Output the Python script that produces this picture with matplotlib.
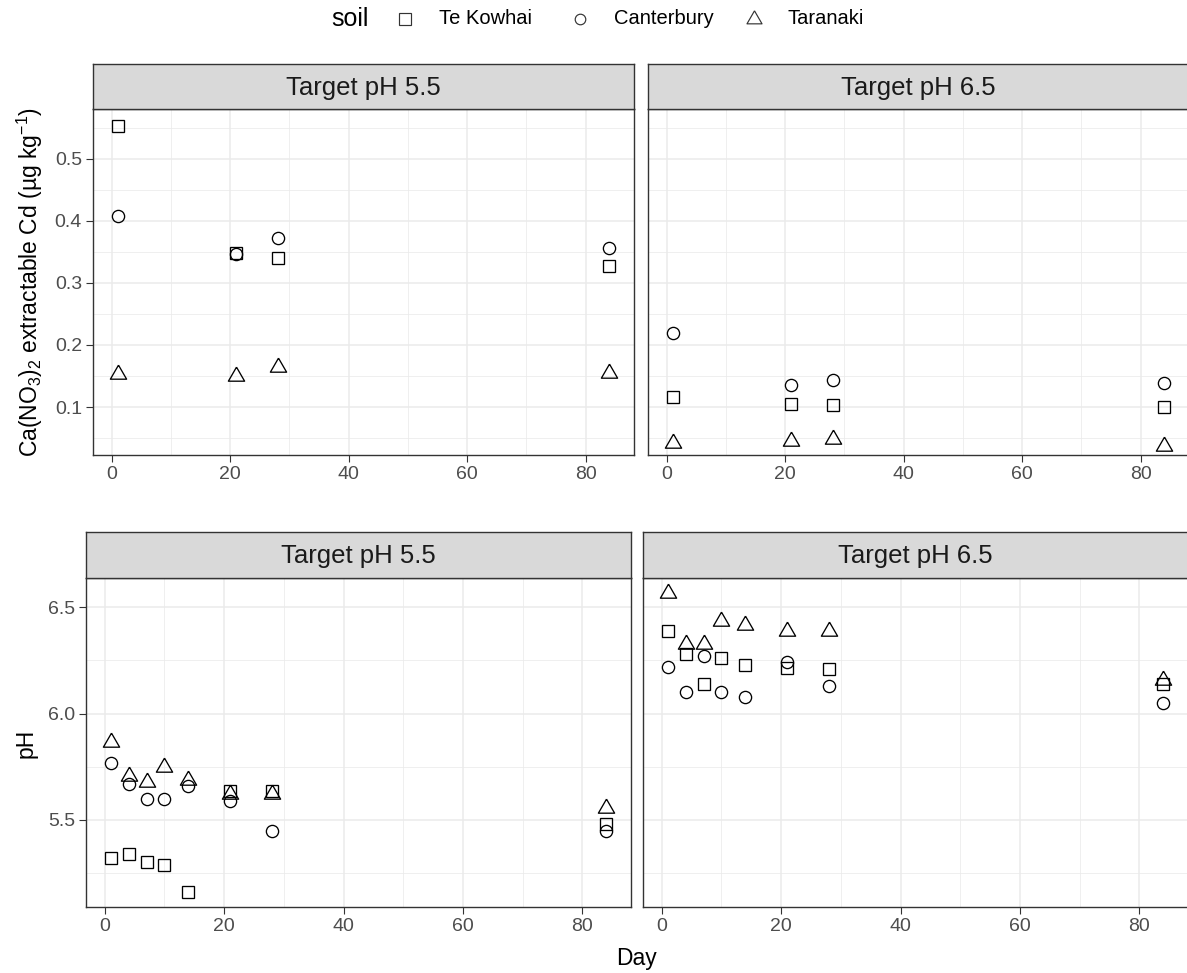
import matplotlib
matplotlib.use('Agg')
import matplotlib.pyplot as plt
from matplotlib.lines import Line2D

plt.rcParams['font.family'] = ['Liberation Sans', 'DejaVu Sans']
plt.rcParams['mathtext.fontset'] = 'custom'
plt.rcParams['mathtext.rm'] = 'Liberation Sans'
plt.rcParams['mathtext.it'] = 'Liberation Sans:italic'
plt.rcParams['mathtext.bf'] = 'Liberation Sans:bold'

soils = ['Te Kowhai', 'Canterbury', 'Taranaki']
targets = ['Target pH 5.5', 'Target pH 6.5']

# extractable Cd, sampled on four days
cd_days = [1, 21, 28, 84]
cd55_tekowhai = [0.553, 0.349, 0.340, 0.327]
cd55_canterbury = [0.408, 0.347, 0.372, 0.357]
cd55_taranaki = [0.153, 0.150, 0.165, 0.155]
cd65_tekowhai = [0.116, 0.105, 0.103, 0.100]
cd65_canterbury = [0.219, 0.136, 0.144, 0.138]
cd65_taranaki = [0.042, 0.045, 0.049, 0.037]

# soil pH over the incubation
ph_days = [1, 4, 7, 10, 14, 21, 28, 84]
ph55_tekowhai = [5.318, 5.340, 5.300, 5.289, 5.159, 5.635, 5.635, 5.478]
ph55_canterbury = [5.769, 5.670, 5.596, 5.596, 5.659, 5.588, 5.447, 5.447]
ph55_taranaki = [5.868, 5.708, 5.678, 5.749, 5.687, 5.620, 5.620, 5.557]
ph65_tekowhai = [6.390, 6.280, 6.141, 6.261, 6.230, 6.212, 6.209, 6.138]
ph65_canterbury = [6.217, 6.099, 6.269, 6.099, 6.079, 6.241, 6.130, 6.049]
ph65_taranaki = [6.568, 6.329, 6.329, 6.437, 6.418, 6.387, 6.387, 6.159]

W, H = 1187, 973
fig = plt.figure(figsize=(W / 100, H / 100), dpi=100)


def box(x0, y0, x1, y1):
    return [x0 / W, 1 - y1 / H, (x1 - x0) / W, (y1 - y0) / H]


# triangle centred on its centroid, like R's pch 2
tri = [(0, 1), (-0.866, -0.5), (0.866, -0.5), (0, 1)]
marker_style = {
    'Te Kowhai': dict(marker='s', ms=8.3),
    'Canterbury': dict(marker='o', ms=8.8),
    'Taranaki': dict(marker=tri, ms=13.5),
}

border = '#333333'
grid = '#EBEBEB'


def strip(pos, label):
    sa = fig.add_axes(box(*pos))
    sa.set_facecolor('#D9D9D9')
    sa.set_xticks([])
    sa.set_yticks([])
    for s in sa.spines.values():
        s.set_color(border)
        s.set_linewidth(1.0)
    sa.text(0.5, 0.47, label, ha='center', va='center', fontsize=18.5,
            color='#1A1A1A', transform=sa.transAxes)


def panel(pos, days, series, ylim, yticks, yminor, left):
    ax = fig.add_axes(box(*pos))
    for soil, vals in zip(soils, series):
        ax.plot(days, vals, ls='none', mfc='none', mec='black', mew=0.95,
                **marker_style[soil])
    ax.set_xlim(-3.15, 88.15)
    ax.set_ylim(*ylim)
    ax.set_xticks([0, 20, 40, 60, 80])
    ax.set_xticks([10, 30, 50, 70], minor=True)
    ax.set_yticks(yticks)
    ax.set_yticks(yminor, minor=True)
    ax.grid(True, which='major', color=grid, lw=1.1)
    ax.grid(True, which='minor', color=grid, lw=0.55)
    ax.set_axisbelow(True)
    for s in ax.spines.values():
        s.set_color(border)
        s.set_linewidth(1.0)
    ax.tick_params(which='major', length=5, width=0.8, color=border,
                   labelsize=14, labelcolor='#4D4D4D', pad=3)
    ax.tick_params(which='minor', length=0)
    if not left:
        ax.tick_params(axis='y', which='both', left=False, labelleft=False)
    return ax


cd_ticks = [0.1, 0.2, 0.3, 0.4, 0.5]
cd_minor = [0.05, 0.15, 0.25, 0.35, 0.45, 0.55]
cd_lim = (0.0226, 0.5806)
ph_ticks = [5.5, 6.0, 6.5]
ph_minor = [5.25, 5.75, 6.25]
ph_lim = (5.089, 6.638)

ax1 = panel((93, 109, 634, 455), cd_days,
            [cd55_tekowhai, cd55_canterbury, cd55_taranaki],
            cd_lim, cd_ticks, cd_minor, True)
ax1.set_yticklabels(['0.1', '0.2', '0.3', '0.4', '0.5'])
strip((93, 64, 634, 109), targets[0])
ax2 = panel((648, 109, 1189, 455), cd_days,
            [cd65_tekowhai, cd65_canterbury, cd65_taranaki],
            cd_lim, cd_ticks, cd_minor, False)
strip((648, 64, 1189, 109), targets[1])

ax3 = panel((86, 578, 631, 907), ph_days,
            [ph55_tekowhai, ph55_canterbury, ph55_taranaki],
            ph_lim, ph_ticks, ph_minor, True)
ax3.set_yticklabels(['5.5', '6.0', '6.5'])
strip((86, 532, 631, 578), targets[0])
ax4 = panel((643, 578, 1188, 907), ph_days,
            [ph65_tekowhai, ph65_canterbury, ph65_taranaki],
            ph_lim, ph_ticks, ph_minor, False)
strip((643, 532, 1188, 578), targets[1])

# axis titles
fig.text(30 / W, 1 - 282 / H,
         r'Ca(NO$_3$)$_2$ extractable Cd (µg kg$^{-1}$)',
         rotation=90, ha='center', va='center', fontsize=16.5)
fig.text(26 / W, 1 - 743 / H, 'pH', rotation=90, ha='center',
         va='center', fontsize=16.5)
fig.text(637 / W, 1 - 958 / H, 'Day', ha='center', va='center', fontsize=16.5)

# legend across the top
ly = 1 - 19 / H
fig.text(331 / W, ly, 'soil', ha='left', va='center', fontsize=18)
key_x = [405, 580, 754]
key_ms = {'Te Kowhai': 8.0, 'Canterbury': 7.6, 'Taranaki': 12.5}
for soil, kx in zip(soils, key_x):
    st = dict(marker_style[soil])
    st['ms'] = key_ms[soil]
    fig.add_artist(Line2D([kx / W], [ly], transform=fig.transFigure,
                          ls='none', mfc='none', mec='#333333', mew=0.85, **st))
    fig.text((kx + 34) / W, ly, soil, ha='left', va='center', fontsize=14.5)

fig.savefig('out.png', dpi=100)
